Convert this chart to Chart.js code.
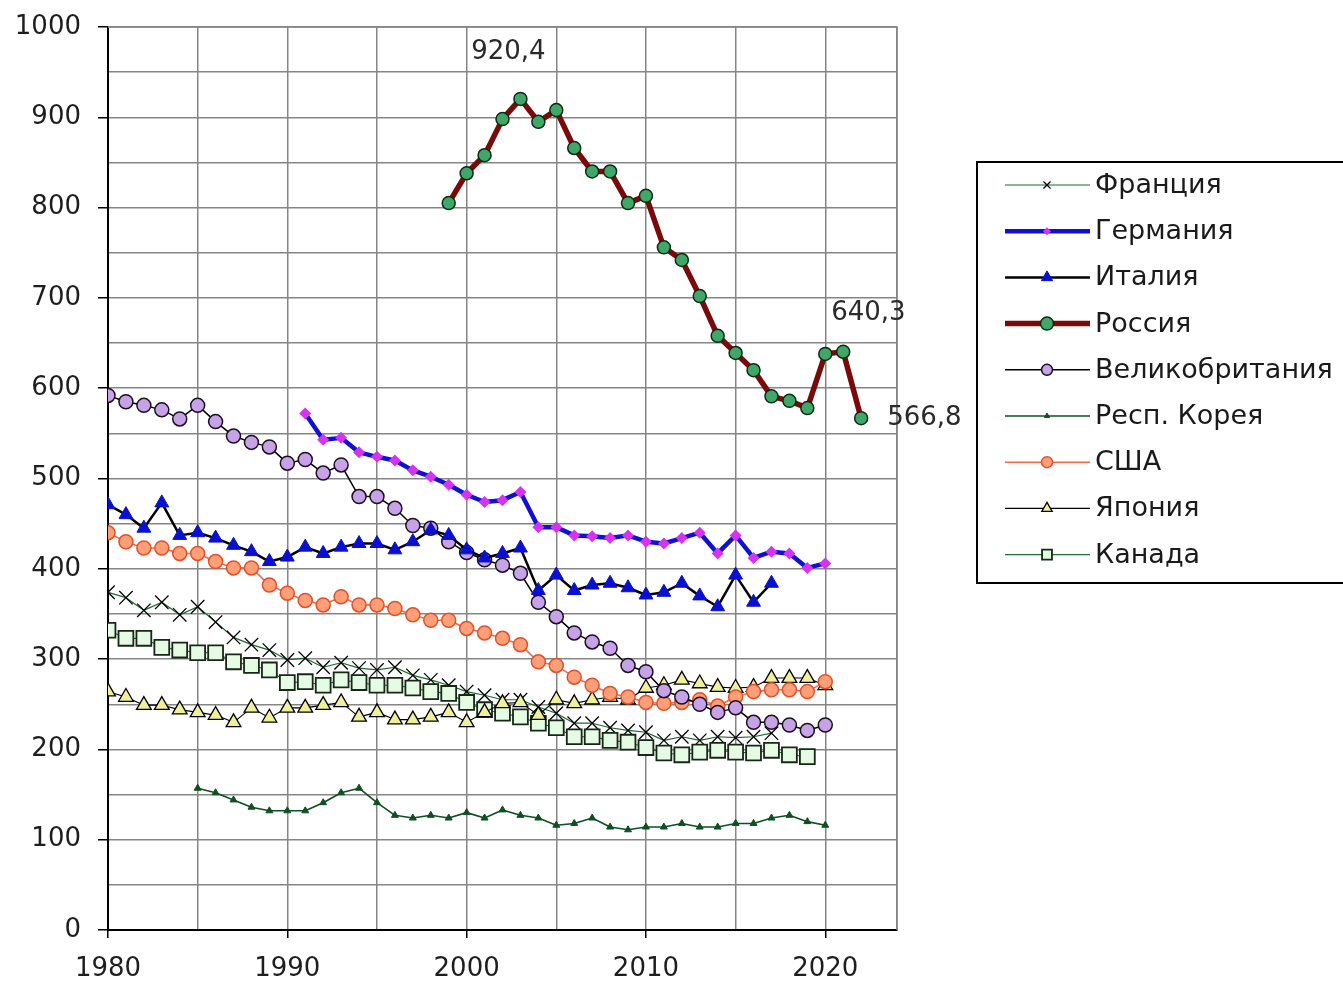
<!DOCTYPE html>
<html>
<head>
<meta charset="utf-8">
<script src="https://cdn.jsdelivr.net/npm/chart.js@4.4.1/dist/chart.umd.min.js"></script>
<style>
  html, body { margin: 0; padding: 0; background: #fff; }
  #wrap { width: 1343px; height: 982px; }
</style>
</head>
<body>
<div id="wrap"><canvas id="c" width="1343" height="982"></canvas></div>
<script>
// ---------- DATA ----------
const years = [1980,1981,1982,1983,1984,1985,1986,1987,1988,1989,
               1990,1991,1992,1993,1994,1995,1996,1997,1998,1999,
               2000,2001,2002,2003,2004,2005,2006,2007,2008,2009,
               2010,2011,2012,2013,2014,2015,2016,2017,2018,2019,
               2020,2021,2022];

const france = [374,368,354,363,349,358,341,324,316,310,
                299,301,291,296,290,288,291,282,277,271,
                264,260,255,255,247,240,229,229,224,221,
                219,210,214,210,214,213,214,218,null,null,
                null,null,null];

const germany = [null,null,null,null,null,null,null,null,null,null,
                 null,572,543,545,529,524,520,509,502,493,
                 482,474,476,485,446,446,437,436,434,437,
                 430,428,434,440,417,437,412,419,417,401,
                 406,null,null];

const italy = [471,460,445,473,437,440,434,426,419,408,
               413,424,417,424,428,428,421,430,443,437,
               421,412,417,423,376,393,376,382,384,379,
               371,374,384,370,358,393,363,384,null,null,
               null,null,null];

const russia = [null,null,null,null,null,null,null,null,null,null,
                null,null,null,null,null,null,null,null,null,805,
                838,858,898,920.4,895,908,866,840,840,805,
                813,756,742,702,658,639,620,591,586,578,
                638,640.3,566.8];

const uk = [592,585,581,576,566,581,563,547,540,535,
            517,521,506,515,480,480,467,448,445,430,
            418,410,404,395,363,347,329,319,312,293,
            286,265,258,250,241,246,230,230,227,221,
            227,null,null];

const korea = [null,null,null,null,null,157,152,144,136,132,
               132,132,141,152,157,141,127,124,127,124,
               130,124,133,127,124,116,118,124,114,111,
               114,114,118,114,114,118,118,124,127,120,
               116,null,null];

const usa = [440,430,423,423,417,417,408,401,401,382,
             373,365,360,369,360,360,356,349,343,343,
             334,329,323,316,297,293,280,271,262,258,
             252,251,252,255,248,258,264,266,266,264,
             275,null,null];

const japan = [264,258,249,249,244,241,238,230,246,235,
               246,246,249,252,236,241,233,233,236,241,
               230,241,251,252,238,255,251,255,258,255,
               268,271,277,273,269,268,269,279,279,279,
               271,null,null];

const canada = [332,323,323,313,310,307,307,297,293,288,
                274,275,271,277,274,271,271,268,264,262,
                252,244,240,236,229,224,214,214,210,208,
                202,196,194,197,199,197,196,199,194,192,
                null,null,null];

const seriesNames = ['Франция','Германия','Италия','Россия','Великобритания','Респ. Корея','США','Япония','Канада'];

const yTickValues = [0,100,200,300,400,500,600,700,800,900,1000];
const xTickLabels = [1980,1990,2000,2010,2020];

// value labels shown on the Russia series
const valueLabels = [
  { series: 'Россия', year: 2003, text: '920,4', dx: -12, dy: -47, align: 'center' },
  { series: 'Россия', year: 2021, text: '640,3', dx: -12, dy: -39, align: 'left' },
  { series: 'Россия', year: 2022, text: '566,8', dx: 26,  dy: 0,   align: 'left' }
];

// ---------- BUILD ----------
function pts(vals) { return years.map((y, i) => ({ x: y, y: vals[i] })); }

const styles = [
  { data: france,  borderColor: '#1f6b2f', borderWidth: 1.2, pointStyle: 'crossRot', pointRadius: 9.5, pointBackgroundColor: '#000', pointBorderColor: '#000', pointBorderWidth: 1.3, legendRadius: 5 },
  { data: germany, borderColor: '#1010d0', borderWidth: 4.5, pointStyle: 'rectRot', pointRadius: 6, pointBackgroundColor: '#d633f0', pointBorderColor: '#d633f0', pointBorderWidth: 0, legendRadius: 4 },
  { data: italy,   borderColor: '#000000', borderWidth: 2.5, pointStyle: 'triangle', pointRadius: 8, pointBackgroundColor: '#0a10d0', pointBorderColor: '#0a10d0', pointBorderWidth: 1, legendRadius: 6.5 },
  { data: russia,  borderColor: '#7a0a0a', borderWidth: 5.5, pointStyle: 'circle', pointRadius: 6.5, pointBackgroundColor: '#3fa868', pointBorderColor: '#0d2a14', pointBorderWidth: 1.5, legendRadius: 6.5 },
  { data: uk,      borderColor: '#000000', borderWidth: 1.5, pointStyle: 'circle', pointRadius: 7, pointBackgroundColor: '#c8a2e6', pointBorderColor: '#1a1024', pointBorderWidth: 1.5, legendRadius: 5.5 },
  { data: korea,   borderColor: '#0f4f22', borderWidth: 1.6, pointStyle: 'triangle', pointRadius: 4, pointBackgroundColor: '#0f4f22', pointBorderColor: '#0f4f22', pointBorderWidth: 1, legendRadius: 3 },
  { data: usa,     borderColor: '#f26a4a', borderWidth: 1.6, pointStyle: 'circle', pointRadius: 7, pointBackgroundColor: '#ff9f78', pointBorderColor: '#e2502a', pointBorderWidth: 1.5, legendRadius: 5.5 },
  { data: japan,   borderColor: '#000000', borderWidth: 1.1, pointStyle: 'triangle', pointRadius: 8.5, pointBackgroundColor: '#eef09a', pointBorderColor: '#000000', pointBorderWidth: 1.3, legendRadius: 6 },
  { data: canada,  borderColor: '#1f6b2f', borderWidth: 1.1, pointStyle: 'rect', pointRadius: 10.5, pointBackgroundColor: '#e6fbe4', pointBorderColor: '#142814', pointBorderWidth: 1.8, legendRadius: 7 }
];

const drawOrder = [3, 1, 2, 4, 6, 7, 8, 0, 5]; // lower "order" is drawn on top

const datasets = styles.map((s, i) => ({
  label: seriesNames[i],
  data: pts(s.data),
  borderColor: s.borderColor,
  borderWidth: s.borderWidth,
  pointStyle: s.pointStyle,
  pointRadius: s.pointRadius,
  pointHoverRadius: s.pointRadius,
  pointBackgroundColor: s.pointBackgroundColor,
  pointBorderColor: s.pointBorderColor,
  pointBorderWidth: s.pointBorderWidth,
  legendRadius: s.legendRadius,
  tension: 0,
  spanGaps: false,
  fill: false,
  order: drawOrder.indexOf(i)
}));

const FONT = 'DejaVu Sans';
const TEXT = '#1e1e1e';
const GRID = '#858585';

const chartAreaPlugin = {
  id: 'fixedArea',
  afterDraw(chart) {
    const { ctx, chartArea: a } = chart;
    ctx.save();
    ctx.strokeStyle = GRID;
    ctx.lineWidth = 1.5;
    ctx.beginPath();
    ctx.moveTo(a.left, a.top); ctx.lineTo(a.right, a.top); ctx.lineTo(a.right, a.bottom);
    ctx.stroke();
    ctx.restore();

    // value labels
    ctx.save();
    ctx.font = '26px "' + FONT + '"';
    ctx.fillStyle = '#2a2a2a';
    ctx.textBaseline = 'middle';
    const xs = chart.scales.x, ys = chart.scales.y;
    valueLabels.forEach(l => {
      const di = seriesNames.indexOf(l.series);
      const idx = years.indexOf(l.year);
      const v = styles[di].data[idx];
      const px = xs.getPixelForValue(l.year), py = ys.getPixelForValue(v);
      ctx.textAlign = l.align;
      ctx.fillText(l.text, px + l.dx, py + l.dy);
    });
    ctx.restore();

    // legend
    ctx.save();
    const bx = 977, by = 162, bw = 420, bh = 421;
    ctx.fillStyle = '#fff';
    ctx.fillRect(bx, by, bw, bh);
    ctx.strokeStyle = '#000';
    ctx.lineWidth = 2;
    ctx.strokeRect(bx, by, bw, bh);
    ctx.font = '27px "' + FONT + '"';
    ctx.textBaseline = 'middle';
    ctx.textAlign = 'left';
    chart.data.datasets.forEach((ds, i) => {
      const y = 185 + i * 46.2;
      ctx.strokeStyle = ds.borderColor;
      ctx.lineWidth = ds.borderWidth;
      ctx.beginPath(); ctx.moveTo(1005, y); ctx.lineTo(1090, y); ctx.stroke();
      ctx.fillStyle = ds.pointBackgroundColor;
      ctx.strokeStyle = ds.pointBorderColor;
      ctx.lineWidth = ds.pointBorderWidth || 1;
      Chart.helpers.drawPoint(ctx, {
        pointStyle: ds.pointStyle, radius: ds.legendRadius, rotation: 0,
        borderWidth: ds.pointBorderWidth
      }, 1047, y);
      ctx.fillStyle = '#1a1a1a';
      ctx.fillText(ds.label, 1095, y + 1);
    });
    ctx.restore();
  }
};

new Chart(document.getElementById('c'), {
  type: 'line',
  data: { datasets },
  plugins: [chartAreaPlugin],
  options: {
    responsive: false,
    animation: false,
    devicePixelRatio: 1,
    layout: { padding: { top: 27, right: 446, left: 0, bottom: 0 } },
    plugins: { legend: { display: false }, tooltip: { enabled: false } },
    elements: { line: { borderJoinStyle: 'round' } },
    scales: {
      x: {
        type: 'linear',
        min: 1980, max: 2024,
        afterFit(s) { s.height = 52; s.paddingLeft = 0; s.paddingRight = 0; },
        afterBuildTicks(s) {
          const t = [];
          for (let v = 1980; v <= 2020; v += 5) t.push({ value: v });
          t.push({ value: 2024 });
          s.ticks = t;
        },
        ticks: {
          autoSkip: false, maxRotation: 0,
          font: { family: FONT, size: 26 }, color: TEXT, padding: 16,
          callback: v => xTickLabels.includes(v) ? String(v) : ''
        },
        grid: {
          color: GRID, lineWidth: 1.5, drawTicks: true, tickLength: 8,
          tickColor: c => (c.tick && xTickLabels.includes(c.tick.value)) ? '#000' : 'rgba(0,0,0,0)'
        },
        border: { color: '#000', width: 2 }
      },
      y: {
        type: 'linear',
        min: 0, max: 1000,
        afterFit(s) { s.width = 108; s.paddingTop = 0; s.paddingBottom = 0; },
        afterBuildTicks(s) {
          const t = [];
          for (let v = 0; v <= 1000; v += 50) t.push({ value: v });
          s.ticks = t;
        },
        ticks: {
          autoSkip: false,
          font: { family: FONT, size: 26 }, color: TEXT, padding: 17,
          callback: v => yTickValues.includes(v) ? String(v) : ''
        },
        grid: {
          color: GRID, lineWidth: 1.5, drawTicks: true, tickLength: 10,
          tickColor: c => (c.tick && yTickValues.includes(c.tick.value)) ? '#000' : 'rgba(0,0,0,0)'
        },
        border: { color: '#000', width: 2 }
      }
    }
  }
});
</script>
</body>
</html>
